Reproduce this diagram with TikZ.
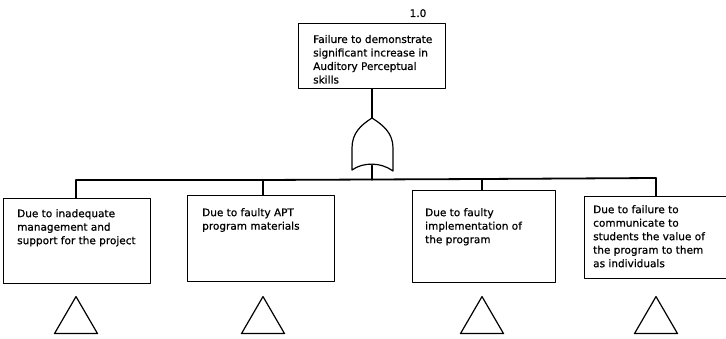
\documentclass[tikz,border=0pt]{standalone}
\usepackage{fontspec}
\setmainfont{DejaVu Sans}
\newfontfamily\typeface[FakeBold=0.7]{DejaVu Sans}
\usetikzlibrary{shapes.geometric}
\begin{document}
\begin{tikzpicture}[x=1pt,y=-1pt,
  line cap=round, line join=round,
  frame/.style={draw, line width=1.2pt, rectangle, inner sep=0pt, anchor=north west},
  label/.style={anchor=north west, inner sep=0pt, align=left,
    font=\typeface\fontsize{10.5}{13.5}\selectfont},
  wire/.style={line width=1.1pt},
  busline/.style={line width=1.8pt},
  transfer/.style={draw, line width=1.2pt, isosceles triangle, shape border rotate=90,
    isosceles triangle stretches, minimum width=43pt, minimum height=37pt, inner sep=0pt}
]
\useasboundingbox (0,0) rectangle (726,339);
\clip (0,0) rectangle (726,339);

% top event
\node[frame, minimum width=147pt, minimum height=65pt] (top) at (298,23) {};
\node[label] (toptext) at (313,34.8) {Failure to demonstrate\\significant increase in\\Auditory Perceptual\\skills};
\node[anchor=base, inner sep=0pt, font=\typeface\fontsize{10.5}{12}\selectfont] (num) at (418,17) {1.0};

% OR gate
\coordinate (gtip) at (372,118);
\coordinate (gbase) at (372,165.5);
\draw[line width=1.2pt] (352,170) -- (352,148)
  .. controls (352,133) and (361,125) .. (gtip)
  .. controls (383,125) and (393,133) .. (393,148) -- (393,171)
  .. controls (381,162) and (363,162) .. (352,170);

% bus
\coordinate (b1) at (76,180);
\coordinate (b2) at (263,180);
\coordinate (b3) at (482,179);
\coordinate (b4) at (656,178);
\draw[busline] (b1) -- (b2) -- (b3) -- (b4);
\draw[wire] (top.south -| gtip) -- (gtip);
\draw[wire] (gbase) -- (gbase |- b2);

% contributing events
\node[frame, minimum width=147pt, minimum height=85pt] (e1) at (3,198) {};
\node[label] (t1) at (17,209) {Due to inadequate\\management and\\support for the project};
\node[frame, minimum width=147pt, minimum height=86pt] (e2) at (187,195) {};
\node[label] (t2) at (202,208) {Due to faulty APT\\program materials};
\node[frame, minimum width=143pt, minimum height=92pt] (e3) at (412,190) {};
\node[label] (t3) at (425,208) {Due to faulty\\implementation of\\the program};
\node[frame, minimum width=150pt, minimum height=82pt] (e4) at (584,196) {};
\node[label] (t4) at (593,205) {Due to failure to\\communicate to\\students the value of\\the program to them\\as individuals};

\draw[wire] (b1) -- (b1 |- e1.north);
\draw[wire] (b2) -- (b2 |- e2.north);
\draw[wire] (b3) -- (b3 |- e3.north);
\draw[wire] (b4) -- (b4 |- e4.north);

% transfer symbols
\node[transfer, anchor=apex] (x1) at (76,295) {};
\node[transfer, anchor=apex] (x2) at (263,295) {};
\node[transfer, anchor=apex] (x3) at (482,295) {};
\node[transfer, anchor=apex] (x4) at (656,295) {};
\end{tikzpicture}
\end{document}
